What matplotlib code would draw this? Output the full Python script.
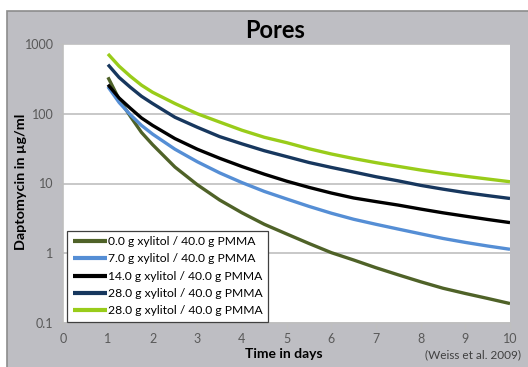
import matplotlib
matplotlib.use("Agg")
import matplotlib.pyplot as plt
from matplotlib.patches import Rectangle

plt.rcParams['font.family'] = ['Lato', 'DejaVu Sans']

days = [1, 1.25, 1.5, 1.75, 2, 2.5, 3, 3.5, 4, 4.5, 5, 5.5, 6, 6.5, 7, 7.5, 8, 8.5, 9, 9.5, 10]

xyl_0 = [333, 161, 92, 54, 36, 17.2, 9.6, 5.8, 3.8, 2.6, 1.89, 1.38, 1.02, 0.8, 0.62, 0.49, 0.39, 0.315, 0.265, 0.225, 0.19]
xyl_7 = [244, 145, 97, 68, 51, 31, 20.5, 14.2, 10.3, 7.7, 6.0, 4.7, 3.75, 3.07, 2.6, 2.22, 1.9, 1.63, 1.43, 1.27, 1.14]
xyl_14 = [261, 168, 120, 87, 68, 44, 31, 23, 17.5, 13.6, 10.8, 8.8, 7.3, 6.2, 5.5, 4.9, 4.3, 3.8, 3.4, 3.05, 2.75]
xyl_28a = [506, 331, 240, 178, 140, 89, 64, 47, 37, 29.5, 24.3, 20, 17, 14.6, 12.5, 10.9, 9.4, 8.3, 7.4, 6.7, 6.1]
xyl_28b = [720, 480, 345, 257, 203, 140, 100, 76, 58, 46, 38.5, 31.5, 26.5, 22.8, 19.9, 17.6, 15.6, 14.0, 12.7, 11.6, 10.6]

labels = ["0.0 g xylitol / 40.0 g PMMA",
          "7.0 g xylitol / 40.0 g PMMA",
          "14.0 g xylitol / 40.0 g PMMA",
          "28.0 g xylitol / 40.0 g PMMA",
          "28.0 g xylitol / 40.0 g PMMA"]
series = [xyl_0, xyl_7, xyl_14, xyl_28a, xyl_28b]
colors = ['#4F6228', '#558ED5', '#000000', '#17375E', '#99CC1A']

y_ticks = [0.1, 1, 10, 100, 1000]
y_ticklabels = ["0.1", "1", "10", "100", "1000"]
x_ticks = list(range(0, 11))

W, H = 528, 367
fig = plt.figure(figsize=(W / 100, H / 100), dpi=100)
fig.patch.set_facecolor('white')
bg = Rectangle((7 / W, -0.01), 1.0, 1.01 - 11 / H, transform=fig.transFigure,
               facecolor='#BEBEC3', edgecolor='#8C8C8C', linewidth=1.2, zorder=-10)
fig.patches.append(bg)

ax = fig.add_axes([63.3 / W, 1 - 323 / H, (510 - 63.3) / W, (323 - 44) / H])
ax.set_zorder(1)
ax.set_facecolor('white')
ax.set_yscale('log')
ax.set_ylim(0.1, 1000)
ax.set_xlim(0, 10)

for vals, c, lab in zip(series, colors, labels):
    ax.plot(days, vals, color=c, lw=2.4, label=lab, solid_capstyle='butt',
            solid_joinstyle='round', zorder=3)

ax.set_yticks(y_ticks)
ax.set_yticklabels(y_ticklabels)
ax.yaxis.set_minor_locator(matplotlib.ticker.NullLocator())
ax.set_xticks(x_ticks)
ax.set_xticklabels([str(t) for t in x_ticks])
ax.grid(axis='y', which='major', color='#BFBFBF', lw=1.2, zorder=1)
ax.set_axisbelow(True)
for s in ['top', 'right']:
    ax.spines[s].set_visible(False)
for s in ['left', 'bottom']:
    ax.spines[s].set_color('#BFBFBF')
    ax.spines[s].set_linewidth(1.2)
ax.tick_params(axis='both', colors='#BFBFBF', length=4, width=1.0, labelsize=9,
               labelcolor='#595959', pad=3)

fig.text(275 / W, 1 - 31 / H, "Pores", ha='center', va='center',
         fontsize=17, fontweight='bold', color='#000000')
fig.text(21 / W, 1 - 182 / H, "Daptomycin in µg/ml", ha='center', va='center',
         rotation=90, fontsize=10.4, fontweight='bold', color='#000000')
fig.text(284 / W, 1 - 354 / H, "Time in days", ha='center', va='center',
         fontsize=10, fontweight='bold', color='#000000')
fig.text(521 / W, 1 - 355 / H, "(Weiss et al. 2009)", ha='right', va='center',
         fontsize=8.5, color='#404040')

leg = ax.legend(loc='upper left', bbox_to_anchor=(67 / W, 1 - 230.5 / H),
                bbox_transform=fig.transFigure, borderaxespad=0,
                fontsize=8.7, frameon=True, fancybox=False, framealpha=1,
                edgecolor='#404040', handlelength=2.8, handletextpad=0.1,
                labelspacing=0.52, borderpad=0.47)
leg.get_frame().set_linewidth(0.9)
for line in leg.get_lines():
    line.set_linewidth(3)

fig.savefig('out.png', dpi=100)
